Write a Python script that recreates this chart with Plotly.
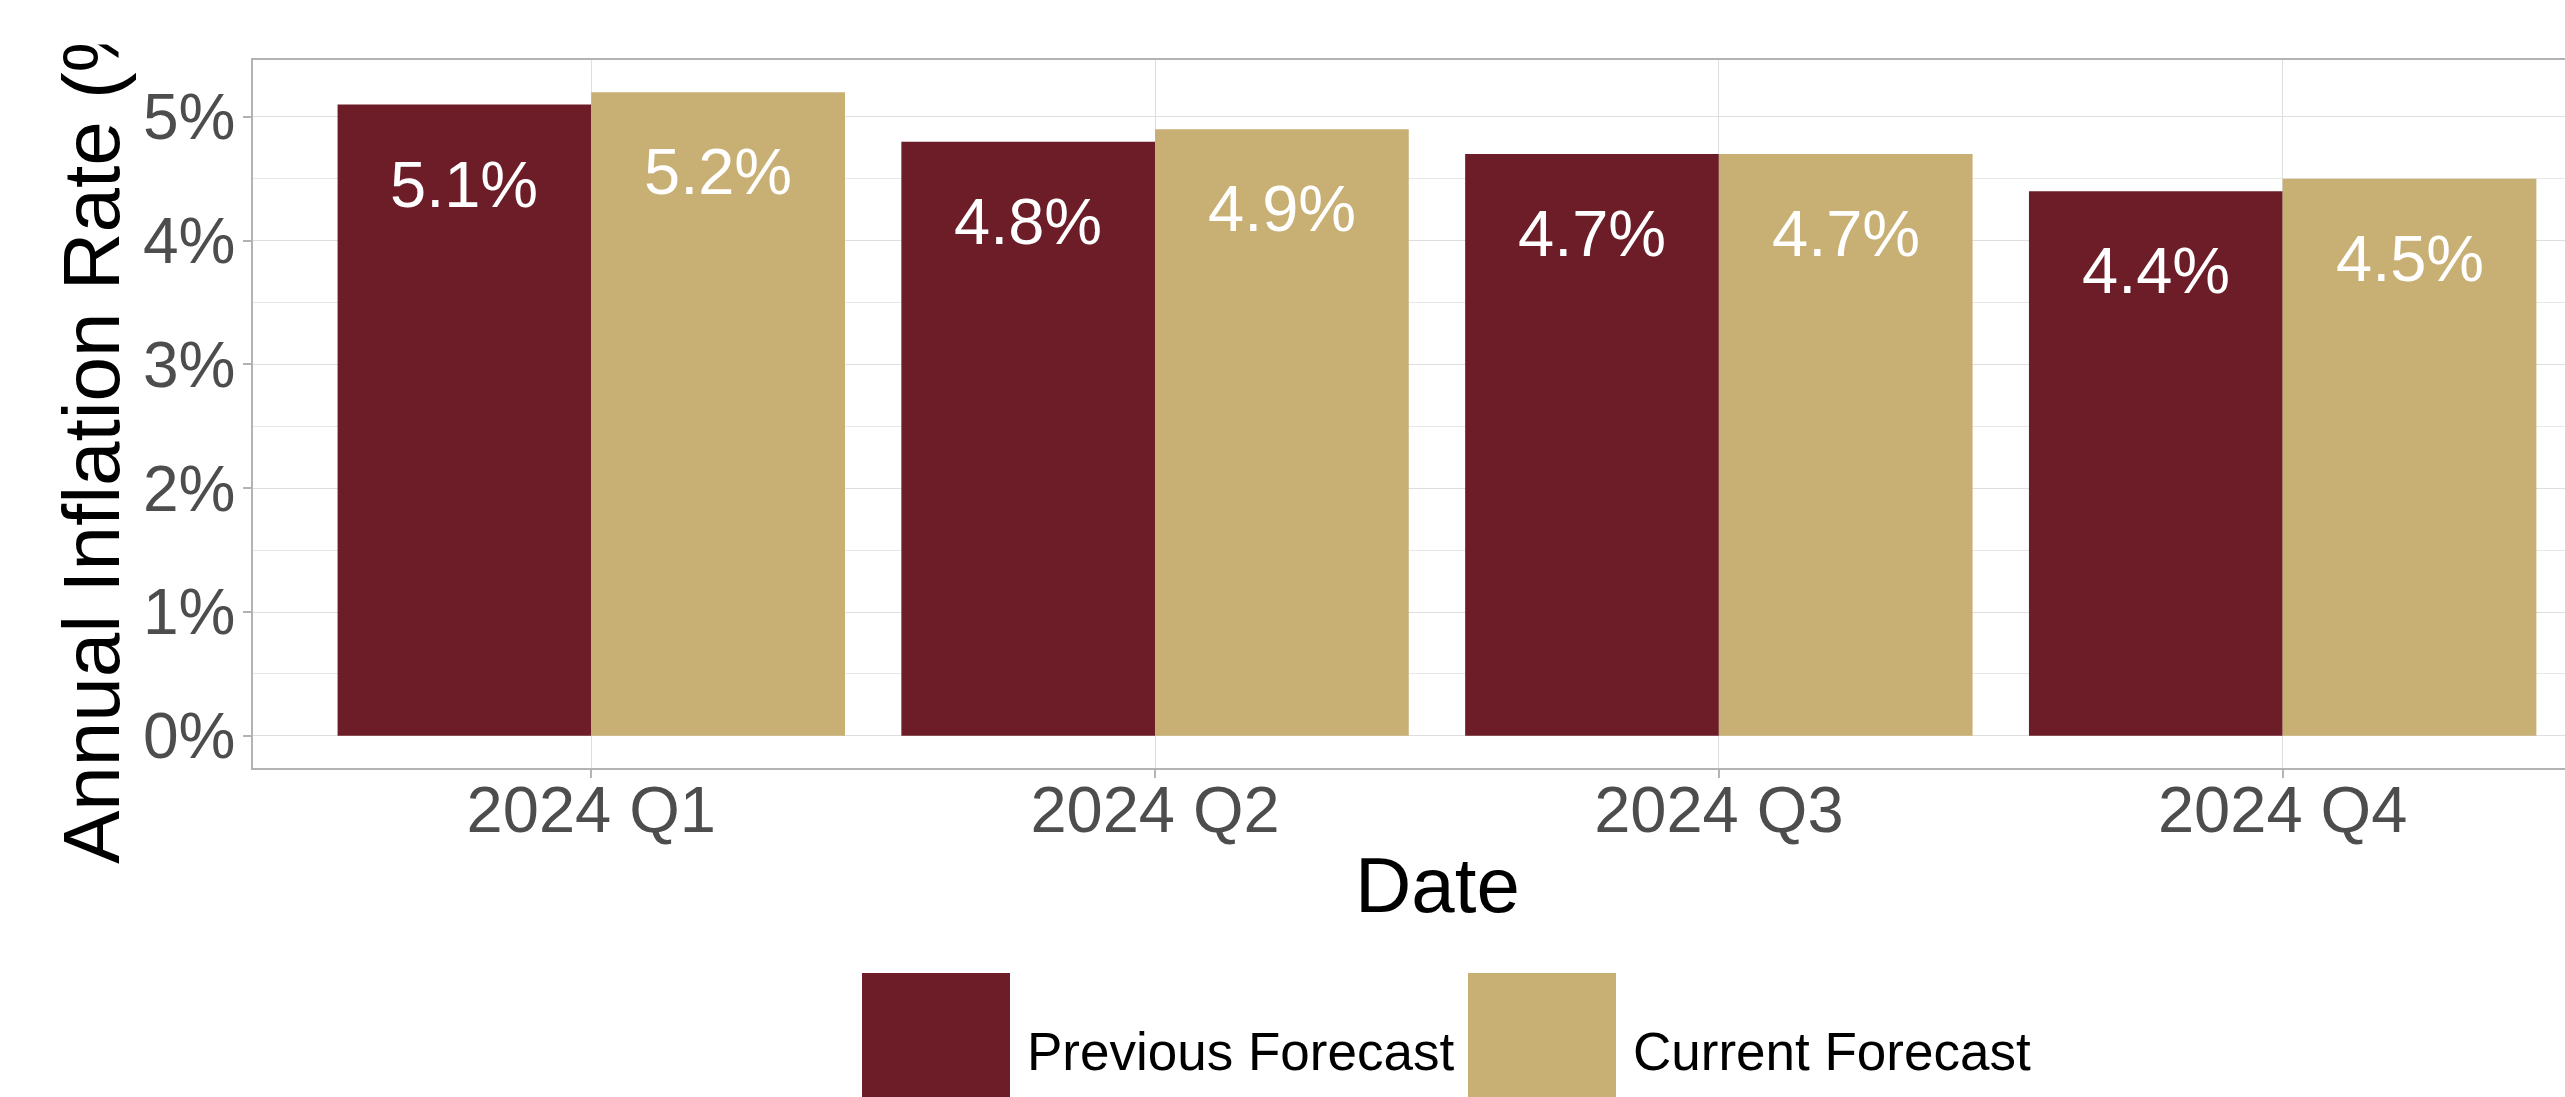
import plotly.graph_objects as go

# ---- data ----
quarters = ["2024 Q1", "2024 Q2", "2024 Q3", "2024 Q4"]
previous = [5.1, 4.8, 4.7, 4.4]
current = [5.2, 4.9, 4.7, 4.5]
series_names = ["Previous Forecast", "Current Forecast"]
series_colors = ["#6C1D27", "#C8AF74"]
y_ticks = [0, 1, 2, 3, 4, 5]
y_ticklabels = ["0%", "1%", "2%", "3%", "4%", "5%"]
y_title = "Annual Inflation Rate (%)"
x_title = "Date"

# ---- layout geometry (pixels) ----
W, H = 2565, 1097
L, R, T, B = 253, 0, 60, 329
PW = W - L - R
PH = H - T - B
FONT = "Liberation Sans, Arial, Helvetica, sans-serif"
BORDER = "#B3B3B3"
GRID = "#DEDEDE"
MINOR = "#E8E8E8"
BARGAP = 0.1


def px_x(px):
    return (px - L) / PW


def px_y(py):
    return (H - B - py) / PH


fig = go.Figure()
series = [previous, current]
for name, vals, col in zip(series_names, series, series_colors):
    fig.add_trace(go.Bar(x=quarters, y=vals, name=name, marker_color=col,
                         marker_line_width=0, showlegend=False))

annotations = []
bar_w = (1 - BARGAP) / len(series)
for j, vals in enumerate(series):
    off = (j - (len(series) - 1) / 2) * bar_w
    for i, v in enumerate(vals):
        annotations.append(dict(
            x=i + off, y=v, xref="x", yref="y", text=f"{v:.1f}%",
            showarrow=False, yanchor="top", xanchor="center", yshift=-41,
            font=dict(family=FONT, size=65, color="white")))

# y axis title (clipped at the top like the reference)
annotations.append(dict(
    x=0, xref="paper", xshift=91 - L, xanchor="center",
    y=px_y(420), yref="paper", yanchor="middle",
    text=y_title, textangle=-90, showarrow=False,
    font=dict(family=FONT, size=80, color="black")))
annotations.append(dict(
    x=0, xref="paper", xanchor="right", y=1, yref="paper", yanchor="bottom",
    yshift=15, width=L, height=45, text=" ", bgcolor="white",
    borderpad=0, showarrow=False))

# x axis title
annotations.append(dict(
    x=px_x(1437), xref="paper", xanchor="center",
    y=0, yref="paper", yanchor="top", yshift=-71,
    text=x_title, showarrow=False,
    font=dict(family=FONT, size=78, color="black")))

# legend (large keys as in the reference)
shapes = []
key_left = [862, 1468]
label_left = [1025, 1631]
for k in range(len(series_names)):
    shapes.append(dict(type="rect", xref="paper", yref="paper",
                       x0=px_x(key_left[k]), x1=px_x(key_left[k] + 148),
                       y0=px_y(973 + 148), y1=px_y(973),
                       fillcolor=series_colors[k], line=dict(width=0),
                       layer="above"))
    annotations.append(dict(
        x=px_x(label_left[k]), xref="paper", xanchor="left",
        y=px_y(1051), yref="paper", yanchor="middle",
        text=series_names[k], showarrow=False,
        font=dict(family=FONT, size=53, color="black")))

fig.update_layout(
    width=W, height=H, autosize=False,
    margin=dict(l=L, r=R, t=T, b=B, pad=0),
    paper_bgcolor="white", plot_bgcolor="white",
    barmode="group", bargap=BARGAP, bargroupgap=0,
    showlegend=False,
    font=dict(family=FONT),
    annotations=annotations, shapes=shapes,
    xaxis=dict(
        type="category", categoryorder="array", categoryarray=quarters,
        range=[-0.6, 3.5008], showgrid=True, gridcolor=GRID, gridwidth=1.3,
        showline=True, mirror=True, linecolor=BORDER, linewidth=1.5,
        ticks="outside", ticklen=8, tickcolor=BORDER, tickwidth=1.5,
        ticklabelstandoff=-24,
        tickfont=dict(family=FONT, size=65, color="#4D4D4D"),
        zeroline=False, fixedrange=True),
    yaxis=dict(
        range=[-0.26, 5.46], tickmode="array", tickvals=y_ticks,
        ticktext=y_ticklabels,
        showgrid=True, gridcolor=GRID, gridwidth=1.3,
        minor=dict(dtick=0.5, tick0=0, showgrid=True, gridcolor=MINOR,
                   gridwidth=0.8, ticks=""),
        showline=True, mirror=False, linecolor=BORDER, linewidth=1.5,
        ticks="outside", ticklen=8, tickcolor=BORDER, tickwidth=1.5,
        ticklabelstandoff=-5,
        tickfont=dict(family=FONT, size=64, color="#4D4D4D"),
        zeroline=False, fixedrange=True),
)

fig.write_html("out.html")
